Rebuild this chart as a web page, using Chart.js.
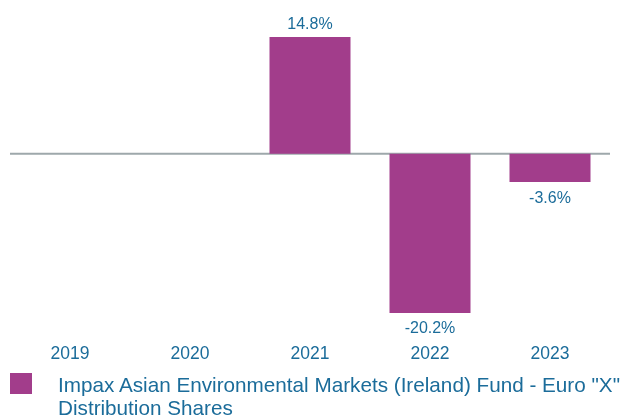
<!DOCTYPE html>
<html>
<head>
<meta charset="utf-8">
<script src="https://cdn.jsdelivr.net/npm/chart.js@4"></script>
<style>
    html, body { margin: 0; padding: 0; background: #fff; }
    #wrap { position: relative; width: 622px; height: 419px; overflow: hidden; }
    #chart-box { position: absolute; left: 0; top: 0; width: 622px; height: 396px; }
    #legend { position: absolute; left: 0; top: 373px; width: 622px; font-family: "Liberation Sans", Arial, sans-serif; font-size: 20.7px; line-height: 23px; color: #1b6c9a; }
    #legend .swatch { position: absolute; left: 10px; top: 0; width: 22px; height: 21px; background: #a23d8b; }
    #legend .text { position: absolute; left: 58px; top: 0; width: 570px; white-space: nowrap; }
</style>
</head>
<body>
<div id="wrap">
    <div id="chart-box"><canvas id="return-chart"></canvas></div>
    <div id="legend">
        <div class="swatch"></div>
        <div class="text" id="legend-text"></div>
    </div>
</div>
<script>
const years = ['2019', '2020', '2021', '2022', '2023'];
const returns = [null, null, 14.8, -20.2, -3.6];
const seriesName = 'Impax Asian Environmental Markets (Ireland) Fund - Euro "X" Distribution Shares';
const legendLines = ['Impax Asian Environmental Markets (Ireland) Fund - Euro "X"', 'Distribution Shares'];

const barColor = '#a23d8b';
const textColor = '#1b6c9a';
const zeroLineColor = '#9ea8ab';

// zero line under the bars
const zeroLine = {
    id: 'zeroLine',
    beforeDatasetsDraw(chart) {
        const ctx = chart.ctx;
        const y = chart.scales.y.getPixelForValue(0);
        ctx.save();
        ctx.strokeStyle = zeroLineColor;
        ctx.lineWidth = 2;
        ctx.beginPath();
        ctx.moveTo(chart.chartArea.left, y);
        ctx.lineTo(chart.chartArea.right, y);
        ctx.stroke();
        ctx.restore();
    }
};

const valueLabels = {
    id: 'valueLabels',
    afterDatasetsDraw(chart) {
        const ctx = chart.ctx;
        const meta = chart.getDatasetMeta(0);
        ctx.save();
        ctx.font = '16px "Liberation Sans", Arial, sans-serif';
        ctx.fillStyle = textColor;
        ctx.textAlign = 'center';
        ctx.textBaseline = 'middle';
        meta.data.forEach((bar, i) => {
            const v = returns[i];
            if (v === null) return;
            const y = v >= 0 ? bar.y - 12 : bar.y + 16;
            ctx.fillText(v.toFixed(1) + '%', bar.x, y);
        });
        ctx.restore();
    }
};

document.addEventListener('DOMContentLoaded', function() {
    document.getElementById('legend-text').innerHTML = legendLines.join('<br>');
    const ctx = document.getElementById('return-chart').getContext('2d');
    new Chart(ctx, {
        type: 'bar',
        data: {
            labels: years,
            datasets: [{
                label: seriesName,
                data: returns,
                backgroundColor: barColor,
                barPercentage: 0.675,
                categoryPercentage: 1.0
            }]
        },
        options: {
            responsive: true,
            maintainAspectRatio: false,
            animation: false,
            layout: { padding: { top: 37, left: 10, right: 12, bottom: 0 } },
            plugins: {
                legend: { display: false },
                tooltip: { enabled: false }
            },
            scales: {
                x: {
                    grid: { display: false, drawTicks: false },
                    border: { display: false },
                    ticks: {
                        color: textColor,
                        padding: 31,
                        font: { family: '"Liberation Sans", Arial, sans-serif', size: 17.5 }
                    }
                },
                y: {
                    display: false,
                    min: -20.2,
                    max: 14.8
                }
            }
        },
        plugins: [zeroLine, valueLabels]
    });
});
</script>
</body>
</html>
